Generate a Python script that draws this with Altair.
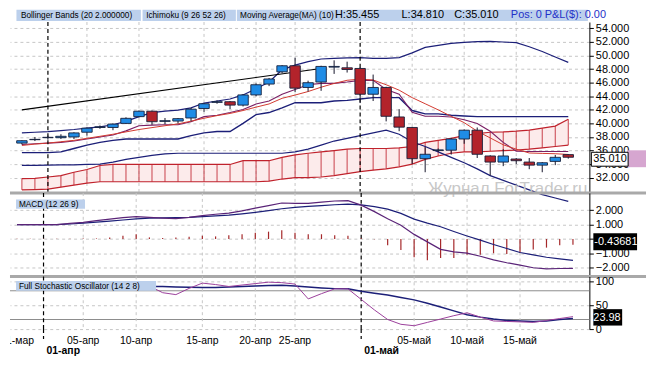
import altair as alt
import pandas as pd

# ---------------- data ----------------
idx = list(range(43))
open_ = [37.10, 37.60, 37.90, 37.90, 38.00, 38.70, 39.40, 39.40, 40.00, 41.00,
         41.80, 40.30, 40.35, 40.80, 42.20, 43.10, 43.20, 42.70, 44.20, 45.80,
         47.60, 48.50, 45.30, 46.10, 48.30, 48.20, 48.10, 44.30, 45.30, 40.95,
         39.40, 34.80, 36.00, 36.05, 37.70, 39.00, 35.20, 34.30, 34.75, 34.30,
         33.85, 34.40, 35.40]
high = [37.50, 38.00, 38.20, 38.40, 38.70, 39.40, 39.70, 40.00, 40.90, 41.90,
        41.90, 40.80, 40.80, 42.30, 43.00, 43.40, 43.30, 44.30, 45.90, 46.70,
        48.60, 49.70, 46.30, 48.50, 49.30, 49.10, 48.30, 47.20, 45.40, 42.10,
        39.50, 36.50, 36.30, 37.80, 39.10, 39.40, 35.30, 36.20, 34.90, 34.90,
        34.30, 35.35, 35.455]
low = [36.90, 37.40, 37.60, 37.70, 37.70, 38.20, 39.20, 39.00, 39.90, 40.90,
       39.80, 39.90, 40.00, 40.30, 41.70, 42.90, 42.10, 42.50, 44.00, 45.50,
       47.40, 44.60, 44.70, 44.80, 47.30, 47.50, 43.00, 43.30, 40.30, 38.85,
       34.00, 32.80, 35.80, 35.40, 37.00, 34.90, 32.30, 33.70, 34.00, 33.25,
       32.80, 33.85, 34.81]
close = [37.45, 37.65, 37.95, 38.10, 38.60, 39.30, 39.50, 39.90, 40.75, 41.80,
         40.25, 40.40, 40.70, 42.10, 42.90, 43.20, 42.70, 44.20, 45.70, 46.55,
         48.50, 45.20, 46.00, 48.40, 48.40, 47.95, 44.30, 45.30, 41.05, 39.45,
         34.80, 35.45, 36.10, 37.70, 39.00, 35.45, 34.30, 35.20, 34.50, 33.85,
         34.20, 35.00, 35.01]
bb_upper = [38.6, 38.7, 38.8, 38.95, 39.1, 39.3, 39.5, 39.8, 40.3, 41.0,
            41.6, 41.8, 41.95, 42.3, 43.0, 43.3, 43.6, 44.2, 45.1, 46.1,
            47.9, 48.6, 49.1, 49.5, 49.6, 49.65, 49.7, 49.6, 49.6, 49.7,
            50.4, 51.2, 51.5, 51.8, 51.95, 52.05, 52.1, 52.0, 51.9, 51.3,
            50.6, 49.8, 49.0]
bb_lower = [33.8, 33.8, 33.85, 33.9, 33.9, 33.95, 34.0, 34.3, 34.7, 35.0,
            35.3, 35.5, 35.6, 35.6, 35.6, 35.6, 35.6, 35.6, 35.6, 35.6,
            35.6, 35.8, 36.2, 36.8, 37.4, 37.8, 38.2, 38.6, 39.0, 38.4,
            37.3, 36.6, 35.8, 35.0, 34.2, 33.3, 32.3, 31.6, 30.9, 30.2,
            29.5, 29.0, 28.5]
ma10 = [36.75, 36.95, 37.1, 37.3, 37.5, 37.8, 38.1, 38.4, 38.75, 39.1,
        39.38, 39.66, 39.93, 40.33, 40.76, 41.15, 41.47, 41.9, 42.4, 42.87,
        43.7, 44.18, 44.7, 45.34, 45.89, 46.36, 46.52, 46.4, 45.7, 44.9,
        43.8, 42.9, 42.0, 41.05, 40.11, 38.86, 37.86, 36.85, 36.2, 35.64,
        35.58, 35.53, 35.42]
tenkan = [36.9, 37.0, 37.1, 37.2, 37.4, 37.7, 38.0, 38.3, 38.9, 39.65,
          39.75, 39.8, 39.8, 40.25, 41.0, 41.2, 41.6, 42.05, 42.85, 43.3,
          44.3, 45.0, 45.7, 45.9, 45.9, 46.1, 46.35, 46.35, 45.0, 44.3,
          41.65, 41.05, 41.05, 40.95, 40.55, 40.0, 38.85, 37.2, 35.9, 35.85,
          35.85, 35.85, 35.85]
kijun = [35.7, 35.7, 35.7, 35.8, 36.3, 36.8, 37.2, 37.5, 37.7, 37.7,
         37.7, 37.7, 37.7, 38.2, 38.6, 38.8, 38.8, 40.0, 41.3, 41.6,
         42.3, 43.05, 43.05, 43.05, 43.3, 43.4, 43.6, 43.8, 43.8, 43.8,
         41.9, 41.4, 41.4, 41.2, 41.1, 41.0, 41.0, 41.0, 41.0, 41.0,
         41.0, 41.0, 41.0]
span_top = [31.85, 31.9, 32.1, 32.3, 32.8, 33.2, 33.8, 33.95, 33.95, 33.95,
            33.95, 33.95, 33.95, 33.95, 33.95, 33.95, 33.95, 34.5, 34.5, 34.5,
            35.0, 35.35, 35.6, 35.8, 36.0, 36.2, 36.3, 36.3, 36.3, 36.4,
            36.6, 37.2, 37.5, 37.8, 38.2, 38.5, 38.7, 38.75, 38.85, 39.0,
            39.3, 39.6, 40.6]
span_bot = [30.2, 30.25, 30.3, 30.6, 30.9, 31.2, 31.4, 31.4, 31.4, 31.4,
            31.4, 31.4, 31.4, 31.4, 31.4, 31.4, 31.4, 31.4, 31.4, 31.5,
            31.8, 32.0, 32.0, 32.1, 32.3, 32.6, 32.9, 33.1, 33.3, 33.6,
            34.0, 34.7, 35.2, 35.6, 35.8, 35.8, 35.9, 36.0, 36.05, 36.2,
            36.4, 36.6, 36.8]
trend_i = [0, 23]
trend_v = [42.0, 48.1]

macd = [1.0, 1.0, 1.0, 1.0, 1.08, 1.16, 1.28, 1.38, 1.48, 1.55,
        1.5, 1.45, 1.42, 1.5, 1.62, 1.72, 1.8, 1.95, 2.15, 2.32,
        2.5, 2.48, 2.48, 2.56, 2.64, 2.66, 2.35, 1.9, 1.4, 0.95,
        0.32, -0.2, -0.72, -0.9, -0.98, -1.2, -1.45, -1.65, -1.82, -2.0,
        -2.08, -2.05, -2.04]
signal = [1.0, 1.0, 1.0, 1.0, 1.04, 1.1, 1.17, 1.24, 1.32, 1.4,
          1.45, 1.47, 1.48, 1.5, 1.55, 1.6, 1.66, 1.75, 1.85, 1.97,
          2.1, 2.2, 2.26, 2.32, 2.38, 2.42, 2.37, 2.25, 2.08, 1.78,
          1.38, 1.1, 0.85, 0.52, 0.21, -0.08, -0.38, -0.66, -0.94, -1.1,
          -1.27, -1.38, -1.49]
hist = [0.02, 0.02, 0.02, 0.02, 0.02, 0.03, 0.04, 0.11, 0.22, 0.33,
        0.11, 0.07, 0.11, 0.15, 0.22, 0.18, 0.26, 0.33, 0.44, 0.51,
        0.6, 0.44, 0.33, 0.33, 0.26, 0.22, 0.05, -0.02, -0.44, -0.77,
        -1.26, -1.48, -1.32, -1.32, -1.1, -1.1, -0.99, -1.04, -0.95, -0.73,
        -0.6, -0.44, -0.40]
stoch_k = [95, 96, 96, 95, 96, 97, 96, 95, 96, 93,
           90, 76, 72, 85, 96, 93, 89, 92, 95, 98,
           97, 94, 63, 74, 84, 84, 62, 40, 20, 10,
           7, 14, 21, 28, 34, 25, 17, 16, 15, 14,
           18, 22, 26]
stoch_d = [94, 94, 93, 93, 92, 92, 91, 91, 90, 90,
           89, 88.7, 88, 87.5, 87, 87, 88, 89, 90, 91,
           91.5, 90, 88, 86, 84.5, 84, 79, 75, 71, 66,
           61, 54, 46, 38, 30, 25, 21, 18, 17, 16,
           17, 20, 22]

price_ticks = [32, 34, 36, 38, 40, 42, 44, 46, 48, 50, 52, 54]
macd_ticks = [-2, -1, 0, 1, 2]
stoch_ticks = [0, 50, 100]
tick_idx = [0, 5, 9, 14, 18, 21, 30, 34, 38]
tick_labels = ["31-мар", "05-апр", "10-апр", "15-апр", "20-апр", "25-апр",
               "05-май", "10-май", "15-май"]
month_idx = [2, 26]
month_labels = ["01-апр", "01-май"]
last_price = 35.010
last_hist = -0.43681
last_stoch = 23.98

# ---------------- layout & style ----------------
FONT = "Liberation Sans"
W = 583
H_MAIN, H_MACD, H_STO, H_LAB = 172, 84, 53, 27
NAVY = "#1c1f78"
BLUE_C = "#1f8ce6"
RED_C = "#b3232b"
GRID = "#c6c6c6"
SEP = "#a9a9a9"
LEG_BG = "#bcd0ec"

df = pd.DataFrame(dict(i=idx, o=open_, h=high, l=low, c=close,
                       bbu=bb_upper, bbl=bb_lower, ma=ma10, ten=tenkan,
                       kij=kijun, sa=span_top, sb=span_bot,
                       macd=macd, sig=signal, hist=hist, k=stoch_k, d=stoch_d))
df["dir"] = ["up" if c >= o else "down" for o, c in zip(open_, close)]
trend_df = pd.DataFrame(dict(i=trend_i, v=trend_v))
month_df = pd.DataFrame(dict(i=month_idx, t=month_labels))
grid_df = pd.DataFrame(dict(i=tick_idx[1:]))
tick_df = pd.DataFrame(dict(i=tick_idx, t=tick_labels))
one = pd.DataFrame(dict(a=[0]))

xs = alt.Scale(domain=[-0.534, 43.24], nice=False, zero=False)


def X():
    return alt.X("i:Q", scale=xs, axis=None, title=None)


def rect(x0, x1, y0, y1, fill, stroke=None):
    kw = dict(fill=fill)
    if stroke:
        kw.update(stroke=stroke, strokeWidth=1)
    return alt.Chart(one).mark_rect(**kw).encode(
        x=alt.value(x0), x2=alt.value(x1), y=alt.value(y0), y2=alt.value(y1))


def txt(t, x, y, size, color="#000", weight="normal", align="left", baseline="alphabetic"):
    return alt.Chart(one).mark_text(text=t, font=FONT, fontSize=size, color=color,
                                    fontWeight=weight, align=align, baseline=baseline).encode(
        x=alt.value(x), y=alt.value(y))


def sep(h):
    return alt.Chart(one).mark_rule(color=SEP, strokeWidth=3).encode(
        x=alt.value(0), x2=alt.value(W + 57), y=alt.value(h), y2=alt.value(h))


month_rule = alt.Chart(month_df).mark_rule(color="#000", strokeDash=[4, 3], strokeWidth=1.2).encode(x=X())
grid_rule = alt.Chart(grid_df).mark_rule(color=GRID, strokeDash=[3, 3], strokeWidth=1).encode(x=X())

# ---------------- main price panel ----------------
ys = alt.Scale(domain=[29.75, 54.95], nice=False, zero=False)
p_axis = alt.Axis(orient="right", values=price_ticks, format=".3f", grid=True,
                  gridDash=[3, 3], gridColor=GRID, domainColor="#000", tickColor="#000",
                  tickSize=4, labelFont=FONT, labelFontSize=11, labelColor="#000",
                  labelPadding=2, title=None)


def Ym(f):
    return alt.Y(f, scale=ys, axis=p_axis, title=None)


base = alt.Chart(df)
cloud_fill = base.mark_area(color="#fcebeb", opacity=1).encode(x=X(), y=Ym("sa:Q"), y2="sb:Q")
cloud_hatch = base.mark_rule(color="#c9404a", strokeWidth=1).encode(x=X(), y=Ym("sa:Q"), y2="sb:Q")
cloud_top = base.mark_line(color="#c0222c", strokeWidth=1.2).encode(x=X(), y=Ym("sa:Q"))
cloud_bot = base.mark_line(color="#c0222c", strokeWidth=1.2).encode(x=X(), y=Ym("sb:Q"))
bbu_line = base.mark_line(color=NAVY, strokeWidth=1.2).encode(x=X(), y=Ym("bbu:Q"))
bbl_line = base.mark_line(color=NAVY, strokeWidth=1.2).encode(x=X(), y=Ym("bbl:Q"))
kij_line = base.mark_line(color=NAVY, strokeWidth=1.4).encode(x=X(), y=Ym("kij:Q"))
ten_line = base.mark_line(color="#7a1f64", strokeWidth=1.1).encode(x=X(), y=Ym("ten:Q"))
ma_line = base.mark_line(color="#d33a30", strokeWidth=1.0).encode(x=X(), y=Ym("ma:Q"))
trend = alt.Chart(trend_df).mark_line(color="#000", strokeWidth=1.1).encode(x=X(), y=Ym("v:Q"))
wick = base.mark_rule(color="#15152a", strokeWidth=1).encode(x=X(), y=Ym("l:Q"), y2="h:Q")
body = base.mark_bar(size=10.5, stroke="#16203a", strokeWidth=0.9).encode(
    x=X(), y=Ym("o:Q"), y2="c:Q",
    color=alt.Color("dir:N", scale=alt.Scale(domain=["up", "down"], range=[BLUE_C, RED_C]), legend=None))

price_df = pd.DataFrame(dict(v=[last_price], t=["%.3f" % last_price]))
pbox_pink = alt.Chart(price_df).mark_rect(color="#d6a6d0", yOffset=-7, y2Offset=10).encode(
    x=alt.value(W + 38), x2=alt.value(W + 57), y=Ym("v:Q"), y2="v:Q")
pbox = alt.Chart(price_df).mark_rect(fill="#fff", stroke="#000", strokeWidth=1, yOffset=-5, y2Offset=9).encode(
    x=alt.value(W + 2), x2=alt.value(W + 39), y=Ym("v:Q"), y2="v:Q")
ptext = alt.Chart(price_df).mark_text(font=FONT, fontSize=11, color="#000", align="left",
                                      baseline="middle", dy=2).encode(
    x=alt.value(W + 4), y=Ym("v:Q"), text="t:N")

watermark = txt("Журнал ForTrader.ru", W - 2, H_MAIN + 1, 17, color="#c8c8c8", align="right")

LY = -3.6
LFS = 8.3
top_legend = [
    rect(6.5, 131.7, -12.4, -1.0, LEG_BG),
    rect(133.4, 227.3, -12.4, -1.0, LEG_BG),
    rect(228.3, 581.5, -12.4, -1.0, LEG_BG),
    txt("Bollinger Bands (20 2.000000)", 11, LY, LFS),
    txt("Ichimoku (9 26 52 26)", 137, LY, LFS),
    txt("Moving Average(MA) (10)", 231.5, LY, LFS),
    txt("H:35.455", 327, LY, 11),
    txt("L:34.810", 394, LY, 11),
    txt("C:35.010", 447, LY, 11),
    txt("Pos: 0", 504, LY, 11, color="#2430c8"),
    txt("P&L($): 0.00", 538, LY, 11, color="#2430c8"),
]

main = alt.layer(
    cloud_fill, grid_rule, cloud_hatch, cloud_top, cloud_bot,
    bbu_line, bbl_line, kij_line, ten_line, ma_line, trend,
    month_rule, wick, body, watermark, pbox_pink, pbox, ptext,
    *top_legend, sep(H_MAIN)
).properties(width=W, height=H_MAIN)

# ---------------- MACD panel ----------------
ym = alt.Scale(domain=[-2.6, 3.2], nice=False, zero=False)
m_axis = alt.Axis(orient="right", values=macd_ticks, grid=True, gridDash=[3, 3], gridColor=GRID,
                  domainColor="#000", tickColor="#000", tickSize=4, labelFont=FONT,
                  labelFontSize=11, labelColor="#000", labelPadding=2, title=None,
                  labelExpr="datum.value == 0 ? '0.00000' : format(datum.value, '.3f')")


def Ymc(f):
    return alt.Y(f, scale=ym, axis=m_axis, title=None)


hist_bars = base.transform_calculate(z="0").mark_rule(color="#a5282a", strokeWidth=1.2).encode(
    x=X(), y=Ymc("hist:Q"), y2="z:Q")
macd_line = base.mark_line(color="#5a2478", strokeWidth=1.2).encode(x=X(), y=Ymc("macd:Q"))
sig_line = base.mark_line(color=NAVY, strokeWidth=1.2).encode(x=X(), y=Ymc("sig:Q"))
mval_df = pd.DataFrame(dict(v=[last_hist], t=["%.5f" % last_hist]))
mbox = alt.Chart(mval_df).mark_rect(color="#000", yOffset=-12, y2Offset=5).encode(
    x=alt.value(W + 4), x2=alt.value(W + 48), y=Ymc("v:Q"), y2="v:Q")
mtext = alt.Chart(mval_df).mark_text(font=FONT, fontSize=11, color="#fff", align="left",
                                     baseline="middle", dy=-3.5).encode(
    x=alt.value(W + 5), y=Ymc("v:Q"), text="t:N")

macd_panel = alt.layer(
    grid_rule, month_rule, hist_bars, sig_line, macd_line,
    rect(6.1, 75.5, 6.5, 16.0, LEG_BG), txt("MACD (12 26 9)", 9, 14.2, LFS),
    mbox, mtext, sep(H_MACD)
).properties(width=W, height=H_MACD)

# ---------------- Stochastic panel ----------------
yk = alt.Scale(domain=[0, 110], nice=False, zero=False)
s_axis = alt.Axis(orient="right", values=stoch_ticks, grid=True, gridDash=[3, 3], gridColor=GRID,
                  domainColor="#000", tickColor="#000", tickSize=4, labelFont=FONT,
                  labelFontSize=11, labelColor="#000", labelPadding=2, title=None)


def Yk(f):
    return alt.Y(f, scale=yk, axis=s_axis, title=None)


lvl_df = pd.DataFrame(dict(v=[80, 20]))
levels = alt.Chart(lvl_df).mark_rule(color="#8c8c8c", strokeWidth=1).encode(y=Yk("v:Q"))
k_line = base.mark_line(color="#9b3f9b", strokeWidth=1).encode(x=X(), y=Yk("k:Q"))
d_line = base.mark_line(color=NAVY, strokeWidth=1.5).encode(x=X(), y=Yk("d:Q"))
xaxis_layer = alt.Chart(tick_df).mark_point(opacity=0).encode(
    x=alt.X("i:Q", scale=xs, title=None,
            axis=alt.Axis(orient="bottom", values=tick_idx, labels=False, ticks=True, tickSize=3,
                          tickColor="#000", domainColor="#000", grid=False, title=None)),
    y=alt.value(10))
sval_df = pd.DataFrame(dict(v=[last_stoch], t=["%.2f" % last_stoch]))
sbox = alt.Chart(sval_df).mark_rect(color="#000", yOffset=-8.5, y2Offset=8).encode(
    x=alt.value(W + 4), x2=alt.value(W + 33), y=Yk("v:Q"), y2="v:Q")
stext = alt.Chart(sval_df).mark_text(font=FONT, fontSize=11, color="#fff", align="left",
                                     baseline="middle").encode(
    x=alt.value(W + 4), y=Yk("v:Q"), text="t:N")

sto_panel = alt.layer(
    levels, grid_rule, month_rule, d_line, k_line, xaxis_layer,
    rect(6.1, 147, 4.5, 14.5, LEG_BG), txt("Full Stochastic Oscillator (14 2 8)", 9, 12.5, LFS),
    sbox, stext
).properties(width=W, height=H_STO)

# ---------------- date labels ----------------
lab_text = alt.Chart(tick_df).mark_text(font=FONT, fontSize=10.5, color="#000", clip=True,
                                        baseline="alphabetic").encode(
    x=X(), y=alt.value(15), text="t:N")
mon_text = alt.Chart(month_df).mark_text(font=FONT, fontSize=10.5, color="#000", fontWeight="bold",
                                         align="left", dx=3, baseline="alphabetic").encode(
    x=X(), y=alt.value(25), text="t:N")
mon_rule = alt.Chart(month_df).mark_rule(color="#000", strokeDash=[4, 3], strokeWidth=1.2).encode(
    x=X(), y=alt.value(0), y2=alt.value(10))
lab_panel = alt.layer(mon_rule, lab_text, mon_text).properties(width=W, height=H_LAB)

chart = alt.vconcat(main, macd_panel, sto_panel, lab_panel, spacing=0, bounds="flush").properties(
    padding=0, background="#ffffff").configure_view(stroke=None)

chart.save("out.html", embed_options={"renderer": "svg", "actions": False})
